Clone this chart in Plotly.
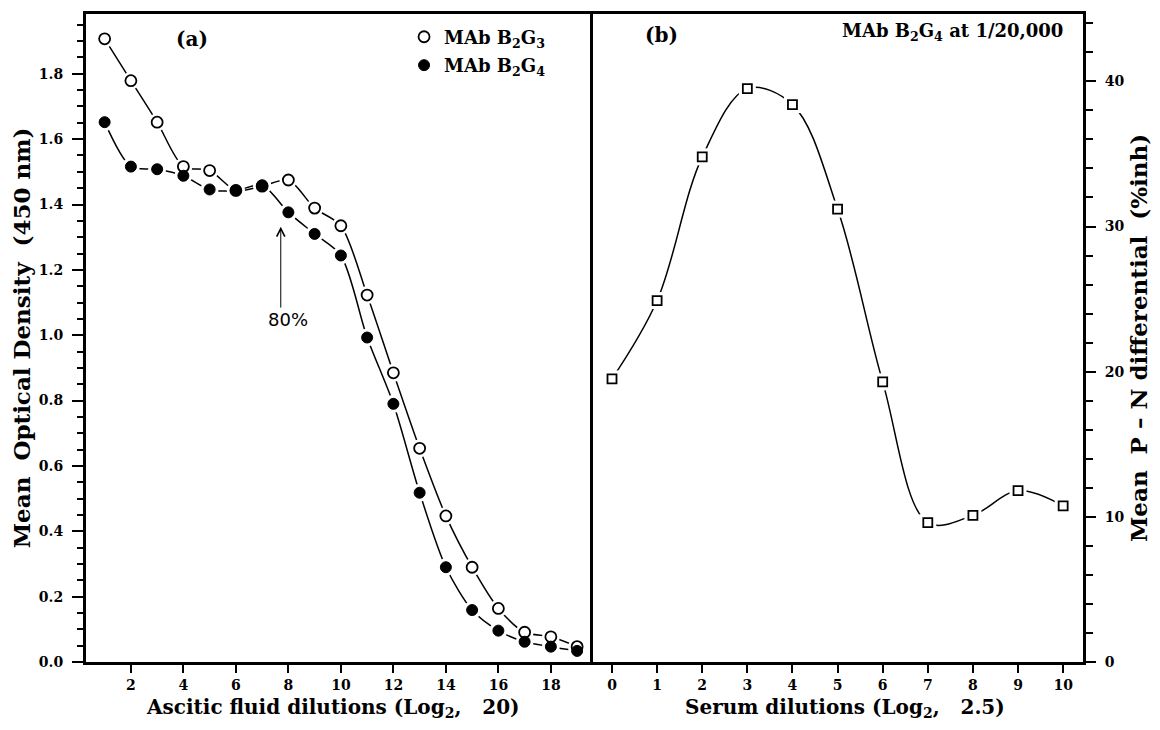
import plotly.graph_objects as go

# ---- data ----
ascitic_dil = list(range(1, 20))
b2g3_od = [1.907, 1.779, 1.652, 1.516, 1.504, 1.443, 1.456, 1.475, 1.389, 1.335,
           1.123, 0.885, 0.654, 0.447, 0.290, 0.164, 0.091, 0.077, 0.047]
b2g4_od = [1.652, 1.516, 1.508, 1.488, 1.446, 1.443, 1.459, 1.376, 1.310, 1.244,
           0.993, 0.790, 0.518, 0.290, 0.159, 0.096, 0.062, 0.047, 0.034]
serum_dil = list(range(0, 11))
pn_diff = [19.5, 24.9, 34.8, 39.5, 38.4, 31.2, 19.3, 9.6, 10.1, 11.8, 10.75]
left_ticks = list(range(2, 19, 2))
right_ticks = list(range(0, 11))

SERIF = "DejaVu Serif"
tickfont = dict(family=SERIF, size=14, color="black", weight="bold")
titlefont = dict(family=SERIF, size=23, color="black", weight="bold")
xtitlefont = dict(family=SERIF, size=20, color="black", weight="bold")
NB = "\u00a0"

fig = go.Figure()

# lines
for ys in (b2g3_od, b2g4_od):
    fig.add_trace(go.Scatter(x=ascitic_dil, y=ys, mode="lines",
                             line=dict(color="black", width=1.5, shape="spline", smoothing=0.8),
                             showlegend=False, hoverinfo="skip", xaxis="x", yaxis="y"))
fig.add_trace(go.Scatter(x=serum_dil, y=pn_diff, mode="lines",
                         line=dict(color="black", width=1.5, shape="spline", smoothing=1.0),
                         showlegend=False, hoverinfo="skip", xaxis="x2", yaxis="y2"))
# halos (gaps around markers)
for ys in (b2g3_od, b2g4_od):
    fig.add_trace(go.Scatter(x=ascitic_dil, y=ys, mode="markers",
                             marker=dict(symbol="circle", size=18, color="white"),
                             showlegend=False, hoverinfo="skip", xaxis="x", yaxis="y"))
fig.add_trace(go.Scatter(x=serum_dil, y=pn_diff, mode="markers",
                         marker=dict(symbol="square", size=17, color="white"),
                         showlegend=False, hoverinfo="skip", xaxis="x2", yaxis="y2"))
# markers
fig.add_trace(go.Scatter(x=ascitic_dil, y=b2g3_od, mode="markers",
                         name="MAb" + NB + "B<sub>2</sub>G<sub>3</sub>", legendgroup="a",
                         marker=dict(symbol="circle", size=11, color="white",
                                     line=dict(color="black", width=1.8)),
                         xaxis="x", yaxis="y"))
fig.add_trace(go.Scatter(x=ascitic_dil, y=b2g4_od, mode="markers",
                         name="MAb" + NB + "B<sub>2</sub>G<sub>4</sub>", legendgroup="b",
                         marker=dict(symbol="circle", size=11, color="black",
                                     line=dict(color="black", width=1)),
                         xaxis="x", yaxis="y"))
fig.add_trace(go.Scatter(x=serum_dil, y=pn_diff, mode="markers", showlegend=False,
                         marker=dict(symbol="square", size=9, color="white",
                                     line=dict(color="black", width=1.8)),
                         xaxis="x2", yaxis="y2"))

axis_common = dict(showgrid=False, zeroline=False, showline=True, linecolor="black",
                   linewidth=3, ticks="outside", tickcolor="black", tickwidth=2,
                   tickfont=tickfont, automargin=False)

fig.update_layout(
    width=1144, height=714,
    margin=dict(l=78, r=69, t=6, b=60, autoexpand=False),
    paper_bgcolor="white", plot_bgcolor="white",
    xaxis=dict(domain=[0, 0.5055], range=[0.29, 19.49], tickvals=left_ticks,
               ticklen=8, ticklabelstandoff=0, mirror=True, anchor="y",
               **axis_common),
    yaxis=dict(range=[0, 1.983], tick0=0, dtick=0.2, tickformat=".1f", ticklen=11,
               ticklabelstandoff=6,
               minor=dict(dtick=0.05, ticks="outside", ticklen=6, tickcolor="black", tickwidth=2),
               mirror=True, anchor="x",
               title=dict(text="Mean" + NB * 2 + "Optical" + NB + "Density" + NB * 2 + "(450" + NB + "nm)",
                          font=titlefont, standoff=6),
               **axis_common),
    xaxis2=dict(domain=[0.5055, 1], range=[-0.488, 10.44], tickvals=right_ticks,
                ticklen=8, ticklabelstandoff=0, mirror=True, anchor="y2",
                **axis_common),
    yaxis2=dict(range=[0, 44.64], tick0=0, dtick=10, ticklen=10, side="right",
                ticklabelstandoff=6,
                minor=dict(dtick=2, ticks="outside", ticklen=7, tickcolor="black", tickwidth=2),
                anchor="x2",
                title=dict(text="Mean" + NB * 2 + "P" + NB + "–" + NB + "N" + NB + "differential" + NB * 2 + "(%inh)",
                           font=titlefont, standoff=16),
                **axis_common),
    legend=dict(x=0.319, y=0.993, xanchor="left", yanchor="top", bgcolor="rgba(0,0,0,0)",
                font=dict(family=SERIF, size=18, color="black", weight="bold"),
                tracegroupgap=2, itemwidth=30),
    annotations=[
        dict(text="Ascitic" + NB + "fluid" + NB + "dilutions" + NB + "(Log<sub>2</sub>," + NB * 3 + "20)",
             x=0.248, y=-0.0926, xref="paper", yref="paper", xanchor="center", yanchor="bottom",
             borderpad=0, showarrow=False, font=xtitlefont),
        dict(text="Serum" + NB + "dilutions" + NB + "(Log<sub>2</sub>," + NB * 3 + "2.5)",
             x=0.761, y=-0.0926, xref="paper", yref="paper", xanchor="center", yanchor="bottom",
             borderpad=0, showarrow=False, font=xtitlefont),
        dict(text="(a)", x=0.1061, y=0.9614, xref="paper", yref="paper", showarrow=False,
             xanchor="center", yanchor="middle",
             font=dict(family=SERIF, size=20, color="black", weight="bold")),
        dict(text="(b)", x=0.5777, y=0.9676, xref="paper", yref="paper", showarrow=False,
             xanchor="center", yanchor="middle",
             font=dict(family=SERIF, size=20, color="black", weight="bold")),
        dict(text="MAb" + NB + "B<sub>2</sub>G<sub>4</sub>" + NB + "at" + NB + "1/20,000",
             x=0.982, y=0.972, xref="paper", yref="paper", xanchor="right", yanchor="middle",
             showarrow=False, font=dict(family=SERIF, size=18, color="black", weight="bold")),
        dict(text="", x=7.71, y=1.332, xref="x", yref="y", ax=7.71, ay=1.08,
             axref="x", ayref="y", showarrow=True, arrowhead=5, arrowsize=1.6,
             arrowwidth=1, arrowcolor="black"),
        dict(text="80%", x=7.98, y=1.049, xref="x", yref="y", showarrow=False,
             font=dict(family="DejaVu Sans", size=18, color="black")),
    ],
)

fig.write_html("out.html")
